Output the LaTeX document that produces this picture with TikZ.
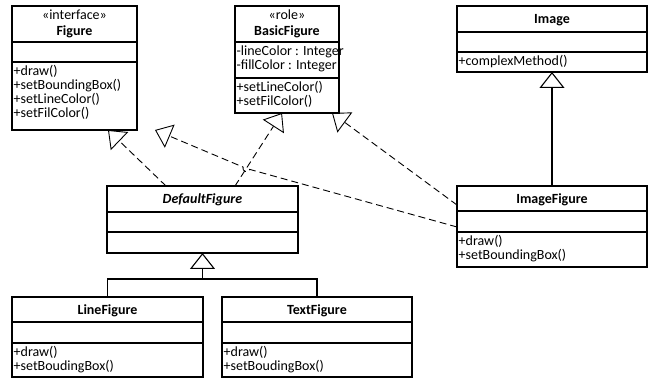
\documentclass[tikz,border=0pt]{standalone}
\usepackage{fontspec}
\setmainfont{Carlito}
\usetikzlibrary{arrows.meta,calc}
\begin{document}
\begin{tikzpicture}[x=1pt,y=-1pt,
  comp/.style={draw, line width=1.2pt, rectangle, inner sep=0pt, outer sep=0pt, anchor=north west},
  txt/.style={inner sep=0pt, anchor=base west, font=\fontsize{14}{14}\selectfont},
  ttl/.style={inner sep=0pt, anchor=base, font=\fontsize{14}{14}\selectfont\bfseries},
  ster/.style={inner sep=0pt, anchor=base, font=\fontsize{14}{14}\selectfont},
  gen/.style={-{Triangle[open,length=16pt,width=25pt]}, line width=1.1pt},
  real/.style={-{Triangle[open,length=16pt,width=25pt]}, line width=0.9pt, dash pattern=on 7pt off 4pt},
  tree/.style={line width=1.1pt},
]
\useasboundingbox (0,0) rectangle (651,379);

% Figure
\node[comp, minimum width=125, minimum height=36] (fig) at (12,6) {};
\node[comp, minimum width=125, minimum height=20] (figA) at (fig.south west) {};
\node[comp, minimum width=125, minimum height=68] (figM) at (figA.south west) {};
\node[ster] (figS) at ($(fig.north)+(0,14)$) {«interface»};
\node[ttl] (figT) at ($(fig.north)+(0,29.5)$) {Figure};
\foreach \t [count=\i from 0] in {+draw(),+setBoundingBox(),+setLineColor(),+setFilColor()}
  \node[txt] (figm\i) at ($(figM.north west)+(1.5,14+13.7*\i)$) {\t};

% BasicFigure
\node[comp, minimum width=104, minimum height=36] (bf) at (235,6) {};
\node[comp, minimum width=104, minimum height=36] (bfA) at (bf.south west) {};
\node[comp, minimum width=104, minimum height=35] (bfM) at (bfA.south west) {};
\node[ster] (bfS) at ($(bf.north)+(0,14)$) {«role»};
\node[ttl] (bfT) at ($(bf.north)+(0,29.5)$) {BasicFigure};
\foreach \t [count=\i from 0] in {-lineColor : Integer,-fillColor : Integer}
  \node[txt] (bfa\i) at ($(bfA.north west)+(1.5,14+13.7*\i)$) {\t};
\foreach \t [count=\i from 0] in {+setLineColor(),+setFilColor()}
  \node[txt] (bfm\i) at ($(bfM.north west)+(1.5,14+13.7*\i)$) {\t};

% Image
\node[comp, minimum width=190, minimum height=26] (img) at (457,6) {};
\node[comp, minimum width=190, minimum height=20] (imgA) at (img.south west) {};
\node[comp, minimum width=190, minimum height=20] (imgM) at (imgA.south west) {};
\node[ttl] (imgT) at ($(img.north)+(0,17.5)$) {Image};
\node[txt] (imgm0) at ($(imgM.north west)+(1.5,14)$) {+complexMethod()};

% ImageFigure
\node[comp, minimum width=190, minimum height=25] (if) at (457,186) {};
\node[comp, minimum width=190, minimum height=21] (ifA) at (if.south west) {};
\node[comp, minimum width=190, minimum height=35] (ifM) at (ifA.south west) {};
\node[ttl] (ifT) at ($(if.north)+(0,17.5)$) {ImageFigure};
\foreach \t [count=\i from 0] in {+draw(),+setBoundingBox()}
  \node[txt] (ifm\i) at ($(ifM.north west)+(1.5,14+13.7*\i)$) {\t};

% DefaultFigure
\node[comp, minimum width=191, minimum height=26] (df) at (107,186) {};
\node[comp, minimum width=191, minimum height=20] (dfA) at (df.south west) {};
\node[comp, minimum width=191, minimum height=21] (dfM) at (dfA.south west) {};
\node[ttl, font=\fontsize{14}{14}\selectfont\bfseries\itshape] (dfT) at ($(df.north)+(0,17.5)$) {DefaultFigure};

% LineFigure
\node[comp, minimum width=191, minimum height=25] (lf) at (12,297) {};
\node[comp, minimum width=191, minimum height=21] (lfA) at (lf.south west) {};
\node[comp, minimum width=191, minimum height=34] (lfM) at (lfA.south west) {};
\node[ttl] (lfT) at ($(lf.north)+(0,17.5)$) {LineFigure};
\foreach \t [count=\i from 0] in {+draw(),+setBoudingBox()}
  \node[txt] (lfm\i) at ($(lfM.north west)+(1.5,14+13.8*\i)$) {\t};

% TextFigure
\node[comp, minimum width=190, minimum height=25] (tf) at (222,297) {};
\node[comp, minimum width=190, minimum height=21] (tfA) at (tf.south west) {};
\node[comp, minimum width=190, minimum height=34] (tfM) at (tfA.south west) {};
\node[ttl] (tfT) at ($(tf.north)+(0,17.5)$) {TextFigure};
\foreach \t [count=\i from 0] in {+draw(),+setBoudingBox()}
  \node[txt] (tfm\i) at ($(tfM.north west)+(1.5,14+13.8*\i)$) {\t};

% Generalization Image <- ImageFigure
\draw[gen] (if.north) -- (imgM.south);

% Generalization tree DefaultFigure <- LineFigure, TextFigure
\coordinate (tj) at ($(dfM.south)+(0,26)$);
\draw[tree] (lf.north) -- (lf.north |- tj) -- (tf.north |- tj) -- (tf.north);
\draw[gen] (tj) -- (dfM.south);

% Realizations
\coordinate (dfE1) at ($(df.north west)+(59,0)$);
\coordinate (dfE2) at ($(df.north west)+(128,0)$);
\coordinate (figE1) at ($(figM.south west)+(96,0)$);
\coordinate (figE2) at ($(figM.south west)+(143,0)$);
\coordinate (bfE1) at ($(bfM.south west)+(47,0)$);
\coordinate (bfE2) at ($(bfM.south west)+(97,0)$);
\coordinate (ifE1) at ($(ifA.south west)+(0,-5)$);
\coordinate (ifE2) at ($(if.south west)+(0,-6)$);

\draw[real] (dfE1) -- (figE1);
\draw[real] (dfE2) -- (bfE1);
\draw[real] (ifE2) -- (bfE2);
\coordinate (X) at (intersection of ifE1--figE1 and dfE2--bfE1);
\coordinate (P1) at ($(X)!3.5pt!(ifE1)$);
\coordinate (P2) at ($(X)!3.5pt!(figE2)$);
\coordinate (C1) at ($(P1)!4.5pt!90:(X)$);
\coordinate (C2) at ($(P2)!4.5pt!-90:(X)$);
\draw[real] (ifE1) -- (P1) .. controls (C1) and (C2) .. (P2) -- (figE2);
\end{tikzpicture}
\end{document}
